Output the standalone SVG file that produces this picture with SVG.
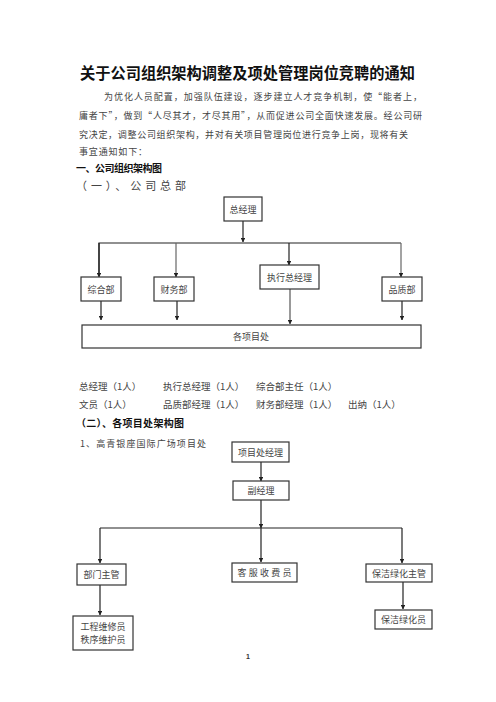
<svg xmlns="http://www.w3.org/2000/svg" width="496" height="702" viewBox="0 0 496 702">
<style>
.t{font-family:"Noto Sans CJK SC","Liberation Serif",sans-serif;fill:#444}
.h{font-family:"Noto Sans CJK SC","Liberation Sans",sans-serif;font-weight:bold;fill:#111}
.bx{fill:#fff;stroke:#333;stroke-width:1.2}
.bt{font-family:"Noto Sans CJK SC",sans-serif;fill:#444;font-size:9px;text-anchor:middle;dominant-baseline:central}
.ln{stroke:#222;stroke-width:1.2;fill:none}
.ar{stroke:#222;stroke-width:1.2;fill:none;marker-end:url(#a)}
</style>
<defs>
<marker id="a" viewBox="0 0 6 6" refX="5.5" refY="3" markerWidth="4.5" markerHeight="4.5" orient="auto" markerUnits="userSpaceOnUse">
<path d="M0,0 L6,3 L0,6 Z" fill="#222"/>
</marker>
</defs>
<rect width="496" height="702" fill="#fff"/>
<text class="h" x="80" y="78.5" font-size="15.5" textLength="335" lengthAdjust="spacingAndGlyphs">关于公司组织架构调整及项处管理岗位竞聘的通知</text>
<text class="t" x="104" y="99.5" font-size="9" textLength="318">为优化人员配置，加强队伍建设，逐步建立人才竞争机制，使“能者上，</text>
<text class="t" x="79" y="119" font-size="9" textLength="343">庸者下”，做到“人尽其才，才尽其用”，从而促进公司全面快速发展。经公司研</text>
<text class="t" x="79" y="137.5" font-size="9" textLength="329">究决定，调整公司组织架构，并对有关项目管理岗位进行竞争上岗，现将有关</text>
<text class="t" x="79" y="155" font-size="9" textLength="68">事宜通知如下：</text>
<text class="h" x="76" y="171.5" font-size="10" textLength="86">一、公司组织架构图</text>
<text class="t" x="76" y="190" font-size="11" textLength="110" fill="#555">（一）、公司总部</text>

<g id="connectors1">
<line class="ar" x1="243" y1="221" x2="243" y2="242"/>
<polyline class="ln" points="99,276 99,243 401,243"/>
<line class="ar" x1="99" y1="243" x2="99" y2="277"/>
<line class="ar" x1="176" y1="243" x2="176" y2="277" style="stroke:#666"/>
<line class="ar" x1="289" y1="243" x2="289" y2="265"/>
<line class="ar" x1="401" y1="243" x2="401" y2="277" style="stroke:#666"/>
<line class="ar" x1="101" y1="301" x2="101" y2="320"/>
<line class="ar" x1="177" y1="301" x2="177" y2="320"/>
<line class="ar" x1="290" y1="289" x2="290" y2="324" style="stroke:#555"/>
<line class="ar" x1="402" y1="301" x2="402" y2="320"/>
</g>
<g id="n-zjl"><rect class="bx" x="224" y="197" width="38" height="24"/><text class="bt" x="243" y="209">总经理</text></g>
<g id="n-zhb"><rect class="bx" x="81" y="277" width="40" height="24"/><text class="bt" x="101" y="289">综合部</text></g>
<g id="n-cwb"><rect class="bx" x="154" y="277" width="40" height="24"/><text class="bt" x="174" y="289">财务部</text></g>
<g id="n-zxzjl"><rect class="bx" x="260" y="265" width="59" height="24"/><text class="bt" x="289.5" y="277">执行总经理</text></g>
<g id="n-pzb"><rect class="bx" x="382" y="277" width="40" height="24"/><text class="bt" x="402" y="289">品质部</text></g>
<g id="n-gxmc"><rect class="bx" x="82" y="325" width="339" height="23"/><text class="bt" x="251" y="336.5">各项目处</text></g>

<text class="t" x="79" y="390" font-size="9.5">总经理（1人）</text>
<text class="t" x="163" y="390" font-size="9.5">执行总经理（1人）</text>
<text class="t" x="256" y="390" font-size="9.5">综合部主任（1人）</text>
<text class="t" x="79" y="407.5" font-size="9.5">文员（1人）</text>
<text class="t" x="163" y="407.5" font-size="9.5">品质部经理（1人）</text>
<text class="t" x="256" y="407.5" font-size="9.5">财务部经理（1人）</text>
<text class="t" x="348" y="407.5" font-size="9.5">出纳（1人）</text>
<text class="h" x="76" y="427" font-size="10" textLength="108">（二）、各项目处架构图</text>
<text class="t" x="80" y="446.5" font-size="9" textLength="126" fill="#555">1、高青银座国际广场项目处</text>

<g id="connectors2">
<line class="ar" x1="261" y1="462" x2="261" y2="481"/>
<line class="ar" x1="261" y1="500" x2="261" y2="528"/>
<polyline class="ln" points="100,528 402,528"/>
<line class="ar" x1="100" y1="528" x2="100" y2="563"/>
<line class="ar" x1="261" y1="528" x2="261" y2="562"/>
<line class="ar" x1="402" y1="528" x2="402" y2="563"/>
<line class="ar" x1="100" y1="585" x2="100" y2="615"/>
<line class="ar" x1="403" y1="582" x2="403" y2="609"/>
</g>
<g id="n-xmcjl"><rect class="bx" x="232" y="442" width="57" height="20"/><text class="bt" x="260.5" y="452">项目处经理</text></g>
<g id="n-fjl"><rect class="bx" x="233" y="481" width="56" height="19"/><text class="bt" x="261" y="490.5">副经理</text></g>
<g id="n-bmzg"><rect class="bx" x="77" y="564" width="49" height="21"/><text class="bt" x="101.5" y="574.5">部门主管</text></g>
<g id="n-kfsfy"><rect class="bx" x="232" y="563" width="65" height="19"/><text class="bt" x="264.5" y="572.5" textLength="54">客服收费员</text></g>
<g id="n-bjlhzg"><rect class="bx" x="366" y="564" width="66" height="18"/><text class="bt" x="399" y="573">保洁绿化主管</text></g>
<g id="n-gcwxy"><rect class="bx" x="73" y="616" width="60" height="34"/><text class="bt" x="103" y="626">工程维修员</text><text class="bt" x="103" y="639.5">秩序维护员</text></g>
<g id="n-bjlhy"><rect class="bx" x="375" y="610" width="57" height="19"/><text class="bt" x="403.5" y="619.5">保洁绿化员</text></g>
<text x="248" y="659" font-family="Liberation Sans, sans-serif" font-size="7" font-weight="bold" fill="#333" text-anchor="middle">1</text>
</svg>
